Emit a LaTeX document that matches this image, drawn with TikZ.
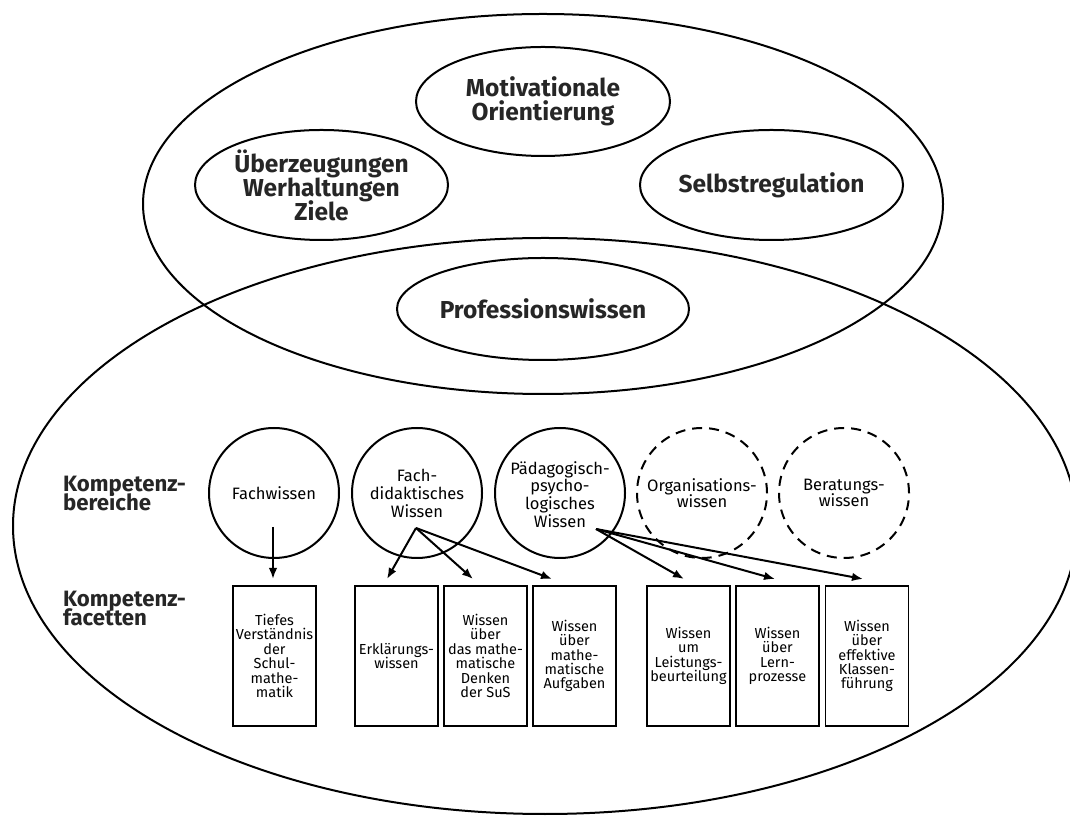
\documentclass[tikz,border=0pt]{standalone}
\usepackage{fontspec}
\setmainfont{Fira Sans}
\usetikzlibrary{shapes.geometric,arrows.meta,calc}
\newcommand\tightlines{\lineskiplimit=-30pt\relax}
\newcommand\lowstack[2]{\raisebox{#1}[\height][\depth]{\lineskiplimit=0pt\relax\begin{tabular}{@{}c@{}}#2\end{tabular}}}
\begin{document}
\begin{tikzpicture}[x=1pt,y=1pt,
  big/.style={draw, ellipse, line width=2pt, inner sep=0pt},
  topell/.style={draw, ellipse, line width=2pt, inner sep=0pt, align=center, font={\fontsize{24.5}{24}\selectfont\bfseries\tightlines}, text=black!85},
  area/.style={draw, circle, line width=2pt, minimum size=130pt, inner sep=0pt, align=center, font={\fontsize{16.5}{16.3}\selectfont\tightlines}},
  dasharea/.style={area, dash pattern=on 10pt off 7pt},
  facet/.style={draw, rectangle, line width=1.8pt, minimum width=83pt, minimum height=140pt, inner sep=0pt, align=center, font={\fontsize{14.5}{14.4}\selectfont\tightlines}},
  lbl/.style={align=left, anchor=west, inner sep=0pt, font={\fontsize{22.2}{19}\selectfont\bfseries\tightlines}, text=black!85},
  arr/.style={-{Latex[length=11pt,width=8.5pt]}, line width=2pt}
]
\useasboundingbox (0,0) rectangle (1070,816);
\clip (0,0) rectangle (1070,816);

% big ellipses
\node[big, minimum width=800pt, minimum height=380pt] (outerTop) at (543,612) {};
\node[big, minimum width=1064pt, minimum height=576pt] (outerLow) at (545,290) {};

% top ellipses
\node[topell, minimum width=254pt, minimum height=109pt] (mot) at (543,714.5) {Motivationale\\Orientierung};
\node[topell, minimum width=253pt, minimum height=110pt] (ueb) at (321.5,631) {Überzeugungen\\Werhaltungen\\Ziele};
\node[topell, minimum width=262pt, minimum height=110pt] (selb) at (771.5,631) {Selbstregulation};
\node[topell, minimum width=254pt, minimum height=102pt] (prof) at (543,507) {Professionswissen};

% row labels
\node[lbl] (lb1) at (63,322) {Kompetenz-\\bereiche};
\node[lbl] (lb2) at (63,208) {Kompetenz-\\facetten};

% competence areas
\node[area] (fw) at (274,323) {Fachwissen};
\node[area] (fd) at (417,323) {\lowstack{-3pt}{Fach-\\didaktisches\\Wissen}};
\node[area] (pp) at (560,323) {\lowstack{-4pt}{Pädagogisch-\\psycho-\\logisches\\Wissen}};
\node[dasharea] (org) at (702,323) {Organisations-\\wissen};
\node[dasharea] (ber) at (844,323) {Beratungs-\\wissen};

% facets
\node[facet] (b1) at (274.5,160) {Tiefes\\Verständnis\\der\\Schul-\\mathe-\\matik};
\node[facet] (b2) at (396.5,160) {Erklärungs-\\wissen};
\node[facet] (b3) at (485.5,160) {Wissen\\über\\das mathe-\\matische\\Denken\\der SuS};
\node[facet] (b4) at (574.5,160) {Wissen\\über\\mathe-\\matische\\Aufgaben};
\node[facet] (b5) at (688.5,160) {Wissen\\um\\Leistungs-\\beurteilung};
\node[facet] (b6) at (777.5,160) {Wissen\\über\\Lern-\\prozesse};
\node[facet] (b7) at (867,160) {Wissen\\über\\effektive\\Klassen-\\führung};

% arrow start / end points
\coordinate (fwo) at (273,289);
\coordinate (fdo) at (416,288);
\coordinate (ppo) at (596,287);
\coordinate (t1) at (273,237);
\coordinate (t2) at (387,237);
\coordinate (t3) at (473,237);
\coordinate (t4) at (552,237);
\coordinate (t5) at (684,237);
\coordinate (t6) at (775,237);
\coordinate (t7) at (863,237);

\draw[arr] (fwo) -- (t1);
\draw[arr] (fdo) -- (t2);
\draw[arr] (fdo) -- (t3);
\draw[arr] (fdo) -- (t4);
\draw[arr] (ppo) -- (t5);
\draw[arr] (ppo) -- (t6);
\draw[arr] (ppo) -- (t7);
\end{tikzpicture}
\end{document}
